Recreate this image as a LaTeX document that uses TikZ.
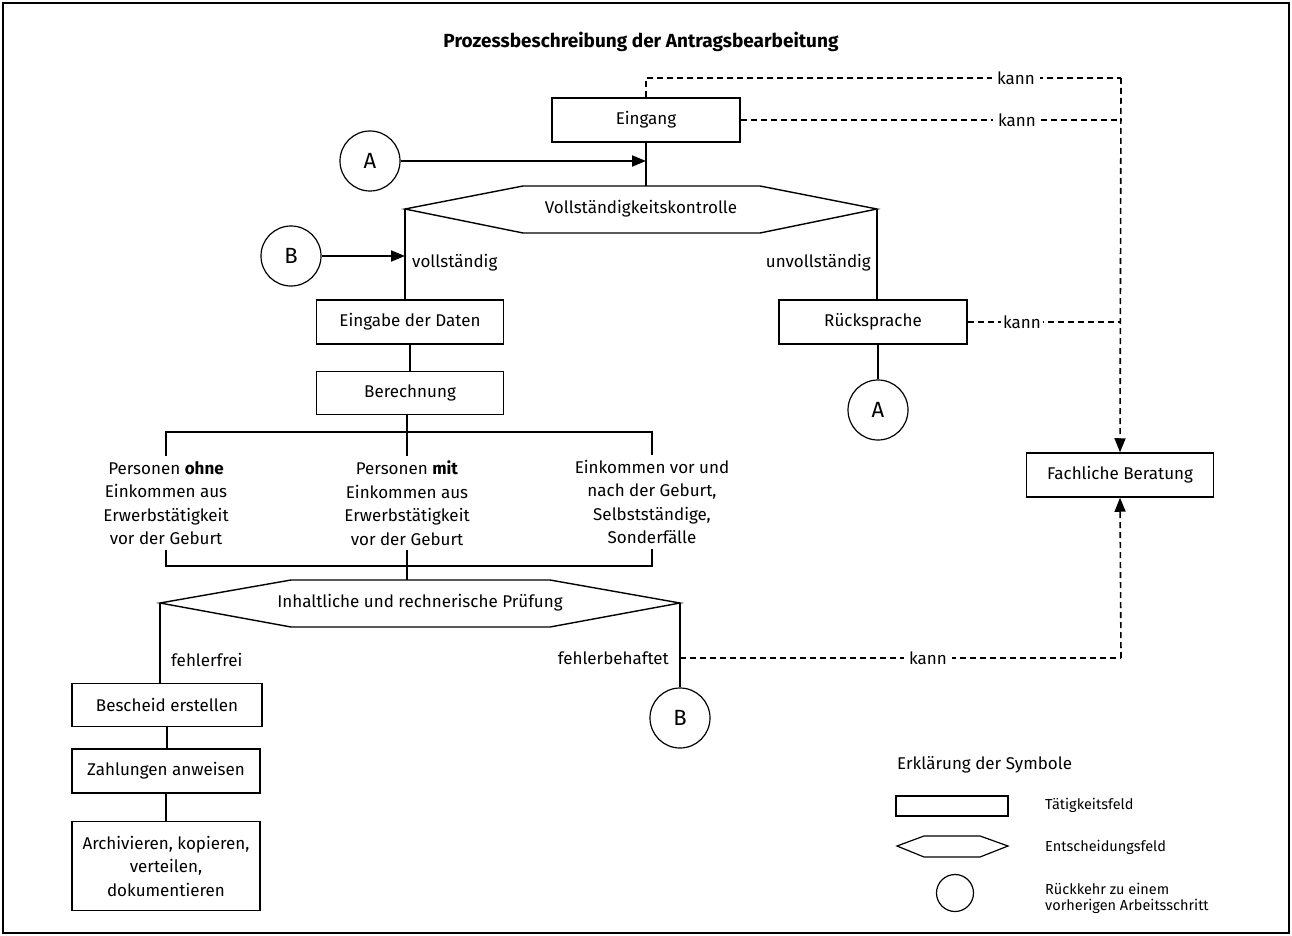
\documentclass[tikz,border=0pt]{standalone}
\usepackage{fontspec}
\setmainfont{Fira Sans}
\usetikzlibrary{arrows.meta}
\newcommand\myBody{\fontsize{17}{23.5}\selectfont}
\newcommand\myCirc{\fontsize{22}{26}\selectfont}
\newcommand\myLeg{\fontsize{14.5}{16}\selectfont}
\newcommand\myLegHead{\fontsize{17}{20}\selectfont}
\newcommand\myTitle{\fontsize{19}{22}\selectfont\bfseries}
\begin{document}
\begin{tikzpicture}[x=1pt,y=-1pt,
  box/.style={draw,line width=1.5pt,minimum width=188pt,minimum height=44pt,inner sep=2pt,font=\myBody,align=center},
  conn/.style={line width=2pt},
  dsh/.style={line width=1.6pt,dash pattern=on 6pt off 4pt},
  arr/.style={-{Triangle[length=14pt,width=11pt]}},
  circ/.style={draw,circle,line width=1.2pt,minimum size=60pt,inner sep=0pt,font=\myCirc},
  lbl/.style={font=\myBody,inner sep=0pt},
  hex/.style={draw,line width=1.4pt,line join=miter},
  kann/.style={font=\myBody,fill=white,inner xsep=5pt,inner ysep=1pt},
  legtxt/.style={font=\myLeg,inner sep=0pt,anchor=west,align=left}]
\useasboundingbox (0,0) rectangle (1292,936);
\draw[line width=2pt] (3,3) rectangle (1289,933);
% title
\node[font=\myTitle] (title) at (641,42) {Prozessbeschreibung der Antragsbearbeitung};
% top part
\node[box] (ein) at (646,120) {Eingang};
\node[circ] (A1) at (370,161) {A};
\coordinate (vkW) at (405,209);
\coordinate (vkE) at (877,209);
\coordinate (vkN) at (646,186);
\draw[hex] (vkW) -- (523,186) -- (760,186) -- (vkE) -- (760,233) -- (523,233) -- cycle;
\node[lbl] (vk) at (641,209) {Vollständigkeitskontrolle};
\draw[conn] (ein.south) -- (vkN);
\draw[conn,arr] (A1.east) -- (ein.south |- A1.east);
\node[box,minimum width=187pt] (eing) at (410,322) {Eingabe der Daten};
\node[box,minimum width=187pt,minimum height=43pt] (ber) at (410,393) {Berechnung};
\node[circ] (B1) at (291,256) {B};
\draw[conn] (vkW) -- (vkW |- eing.north);
\draw[conn,arr] (B1.east) -- (vkW |- B1.east);
\node[lbl,anchor=west] (voll) at (412,263) {vollständig};
\node[lbl,anchor=east] (unvoll) at (871,263) {unvollständig};
\node[box] (rs) at (873,322) {Rücksprache};
\node[circ] (A2) at (878,410) {A};
\draw[conn] (vkE) -- (vkE |- rs.north);
\draw[conn] (rs.south -| A2.north) -- (A2.north);
\draw[conn] (eing.south) -- (ber.north);
% three cases
\node[lbl,align=center,inner sep=5pt] (p1) at (166,503) {Personen \textbf{ohne}\\Einkommen aus\\Erwerbstätigkeit\\vor der Geburt};
\node[lbl,align=center,inner sep=5pt] (p2) at (407,503) {Personen \textbf{mit}\\Einkommen aus\\Erwerbstätigkeit\\vor der Geburt};
\node[lbl,align=center,inner sep=5pt] (p3) at (652,502) {Einkommen vor und\\nach der Geburt,\\Selbstständige,\\Sonderfälle};
\coordinate (bar1) at (407,432);
\coordinate (bar2) at (407,566);
\draw[conn] (ber.south -| bar1) -- (bar1);
\draw[conn] (p1.north) -- (p1.north |- bar1) -- (p3.north |- bar1) -- (p3.north);
\draw[conn] (bar1) -- (p2.north);
\draw[conn] (p1.south) -- (p1.south |- bar2) -- (p3.south |- bar2) -- (p3.south);
\draw[conn] (p2.south) -- (bar2);
% second decision
\coordinate (ipW) at (160,603);
\coordinate (ipE) at (680,603);
\coordinate (ipN) at (407,580);
\draw[hex] (ipW) -- (291,580) -- (550,580) -- (ipE) -- (550,627) -- (291,627) -- cycle;
\node[lbl] (ip) at (420,603) {Inhaltliche und rechnerische Prüfung};
\draw[conn] (bar2) -- (ipN);
\node[box,minimum width=190pt,minimum height=43pt] (bes) at (167,705) {Bescheid erstellen};
\node[box] (zah) at (166,771) {Zahlungen anweisen};
\node[box,minimum height=89pt] (arc) at (166,866) {Archivieren, kopieren,\\verteilen,\\dokumentieren};
\draw[conn] (ipW) -- (ipW |- bes.north);
\draw[conn] (bes.south) -- (bes.south |- zah.north);
\draw[conn] (zah.south) -- (arc.north);
\node[lbl,anchor=west] (ff) at (171,660) {fehlerfrei};
\node[lbl,anchor=east] (fb1) at (669,658) {fehlerbehaftet};
\node[circ] (B2) at (680,718) {B};
\draw[conn] (ipE) -- (B2.north);
% Fachliche Beratung
\node[box,minimum width=187pt] (fb) at (1120,475) {Fachliche Beratung};
\coordinate (topR) at (1121,78);
\coordinate (botR) at (1121,658);
\draw[dsh] (ein.north) -- (ein.north |- topR) -- (topR);
\draw[dsh,arr] (topR) -- (fb.north);
\node[kann] (k1) at (1016,78) {kann};
\draw[dsh] (ein.east) -- (ein.east -| topR);
\node[kann] (k2) at (1017,120) {kann};
\draw[dsh] (rs.east) -- (rs.east -| topR);
\node[kann,inner xsep=2pt] (k3) at (1022,322) {kann};
\draw[dsh] (ipE |- botR) -- (botR);
\draw[dsh,arr] (botR) -- (fb.south);
\node[kann] (k4) at (928,658) {kann};
% legend
\node[font=\myLegHead,inner sep=0pt,anchor=west] (leg) at (897,765) {Erklärung der Symbole};
\node[draw,line width=1.2pt,minimum width=112pt,minimum height=20pt,inner sep=0pt] (lrect) at (952,806) {};
\node[legtxt] (lt1) at (1045,805) {Tätigkeitsfeld};
\draw[line width=1.2pt] (897,846) -- (924,836) -- (980,836) -- (1008,846) -- (980,857) -- (924,857) -- cycle;
\node[legtxt] (lt2) at (1045,847) {Entscheidungsfeld};
\node[draw,circle,line width=1.2pt,minimum size=37pt,inner sep=0pt] (lcirc) at (955,893) {};
\node[legtxt] (lt3) at (1045,898) {Rückkehr zu einem\\vorherigen Arbeitsschritt};
\end{tikzpicture}
\end{document}
